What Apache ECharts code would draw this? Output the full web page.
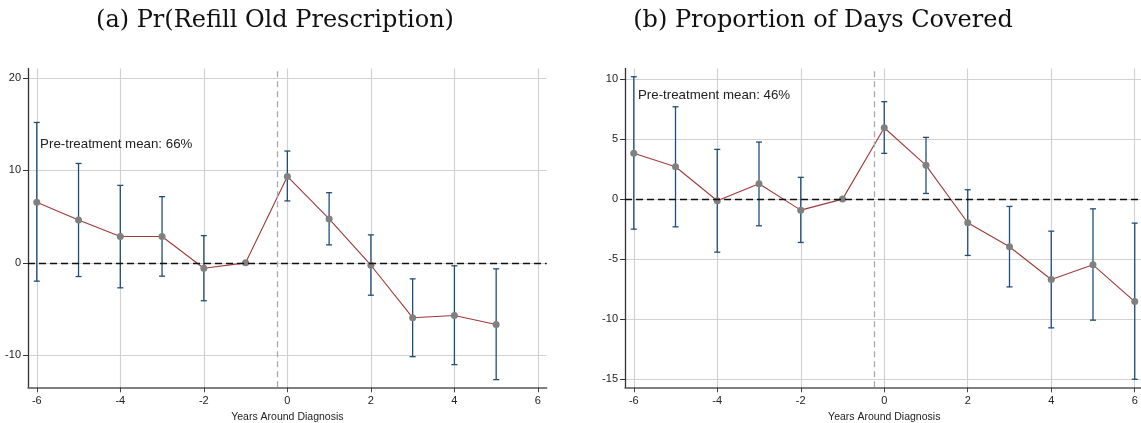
<!DOCTYPE html>
<html>
<head>
<meta charset="utf-8">
<script src="https://cdn.jsdelivr.net/npm/echarts@6/dist/echarts.min.js"></script>
<style>html,body{margin:0;padding:0;background:#fff}#c{width:1141px;height:423px}</style>
</head>
<body>
<div id="c"></div>
<script>
// Panel (a): Pr(Refill Old Prescription)
const yearsA = [-6, -5, -4, -3, -2, -1, 0, 1, 2, 3, 4, 5];
const refillCoef = [6.54, 4.64, 2.84, 2.84, -0.58, 0, 9.34, 4.75, -0.26, -5.93, -5.69, -6.66];
const refillLow  = [-1.98, -1.48, -2.70, -1.44, -4.10, null, 6.69, 1.94, -3.50, -10.14, -11.0, -12.62];
const refillHigh = [15.17, 10.74, 8.37, 7.15, 2.94, null, 12.08, 7.58, 3.02, -1.73, -0.32, -0.65];

// Panel (b): Proportion of Days Covered
const yearsB = [-6, -5, -4, -3, -2, -1, 0, 1, 2, 3, 4, 5, 6];
const pdcCoef = [3.81, 2.69, -0.14, 1.28, -0.92, 0, 5.94, 2.81, -1.97, -3.97, -6.69, -5.47, -8.53];
const pdcLow  = [-2.5, -2.31, -4.42, -2.22, -3.61, null, 3.81, 0.47, -4.69, -7.31, -10.72, -10.08, -15.0];
const pdcHigh = [10.19, 7.69, 4.14, 4.75, 1.81, null, 8.11, 5.14, 0.78, -0.61, -2.67, -0.81, -2.0];

const xTicks = [-6, -4, -2, 0, 2, 4, 6];
const yTicksA = [-10, 0, 10, 20];
const yTicksB = [-15, -10, -5, 0, 5, 10];

const titles = ['(a) Pr(Refill Old Prescription)', '(b) Proportion of Days Covered'];
const notes = ['Pre-treatment mean: 66%', 'Pre-treatment mean: 46%'];
const xName = 'Years Around Diagnosis';
const eventLine = -0.25;

const chart = echarts.init(document.getElementById('c'), null, {renderer: 'canvas'});

function pairs(xs, ys) { return xs.map((x, i) => [x, ys[i]]); }
function bars(xs, lo, hi) {
  const out = [];
  xs.forEach((x, i) => { if (lo[i] != null) out.push([x, lo[i], hi[i]]); });
  return out;
}
const barColor = '#1f4e79';
function renderBar(params, api) {
  const x = api.value(0), lo = api.value(1), hi = api.value(2);
  const a = api.coord([x, lo]), b = api.coord([x, hi]);
  const w = 3;
  const st = {stroke: barColor, lineWidth: 1.3};
  return {type: 'group', children: [
    {type: 'line', shape: {x1: a[0], y1: a[1], x2: b[0], y2: b[1]}, style: st},
    {type: 'line', shape: {x1: a[0] - w, y1: a[1], x2: a[0] + w, y2: a[1]}, style: st},
    {type: 'line', shape: {x1: b[0] - w, y1: b[1], x2: b[0] + w, y2: b[1]}, style: st}
  ]};
}

const font = 'Liberation Sans';
function xAxis(gi) {
  return {
    type: 'value', gridIndex: gi, min: -6.21, max: 6.21,
    name: xName, nameLocation: 'middle', nameGap: 22,
    nameTextStyle: {fontFamily: font, fontSize: 10.5, color: '#222'},
    axisLine: {onZero: false, lineStyle: {color: '#555', width: 1.5}},
    axisTick: {show: true, length: 5, customValues: xTicks, lineStyle: {color: '#444', width: 1}},
    axisLabel: {customValues: xTicks, margin: 8, fontFamily: font, fontSize: 11, color: '#222'},
    splitLine: {show: true, lineStyle: {color: '#d2d2d2', width: 1.2}}
  };
}
function yAxis(gi, min, max, ticks) {
  return {
    type: 'value', gridIndex: gi, min: min, max: max,
    axisLine: {show: true, onZero: false, lineStyle: {color: '#333', width: 1.3}},
    axisTick: {show: true, length: 5, customValues: ticks, lineStyle: {color: '#333', width: 1}},
    axisLabel: {customValues: ticks, margin: 7, fontFamily: font, fontSize: 11, color: '#222'},
    splitLine: {show: true, lineStyle: {color: '#d2d2d2', width: 1.2}}
  };
}
function panelSeries(gi, xs, coef, lo, hi, note, notePos) {
  return [
    {
      type: 'custom', xAxisIndex: gi, yAxisIndex: gi, z: 3,
      renderItem: renderBar, data: bars(xs, lo, hi), silent: true,
      markLine: {
        silent: true, symbol: 'none', label: {show: false},
        data: [
          {yAxis: 0, lineStyle: {color: '#111', type: [7, 4], width: 1.3}},
          {xAxis: eventLine, lineStyle: {color: '#aaa', type: [6, 4], width: 1.3}}
        ]
      }
    },
    {
      type: 'line', xAxisIndex: gi, yAxisIndex: gi, z: 4,
      data: pairs(xs, coef), symbol: 'circle', symbolSize: 7,
      lineStyle: {color: '#a03a3a', width: 1.1},
      itemStyle: {color: '#808080'}, silent: true, animation: false,
      markPoint: {
        silent: true, symbol: 'circle', symbolSize: 0,
        data: [{coord: notePos}],
        label: {show: true, position: 'right', distance: 0, formatter: note,
                fontFamily: font, fontSize: 13.3, color: '#222'}
      }
    }
  ];
}

const titleStyle = {fontFamily: 'DejaVu Serif', fontSize: 24, fontWeight: 'normal', color: '#111'};
chart.setOption({
  animation: false,
  backgroundColor: '#fff',
  title: [
    {text: titles[0], left: 270, top: 4, textAlign: 'center', textStyle: titleStyle},
    {text: titles[1], left: 818, top: 4, textAlign: 'center', textStyle: titleStyle}
  ],
  grid: [
    {left: 28, top: 68.5, width: 518.7, height: 318.8, outerBoundsMode: 'none', containLabel: false},
    {left: 625, top: 68.5, width: 518.5, height: 318.8, outerBoundsMode: 'none', containLabel: false}
  ],
  xAxis: [xAxis(0), xAxis(1)],
  yAxis: [yAxis(0, -13.45, 21, yTicksA), yAxis(1, -15.67, 10.875, yTicksB)],
  series: [
    ...panelSeries(0, yearsA, refillCoef, refillLow, refillHigh, notes[0], [-5.92, 12.84]),
    ...panelSeries(1, yearsB, pdcCoef, pdcLow, pdcHigh, notes[1], [-5.9, 8.6])
  ]
});
</script>
</body>
</html>
